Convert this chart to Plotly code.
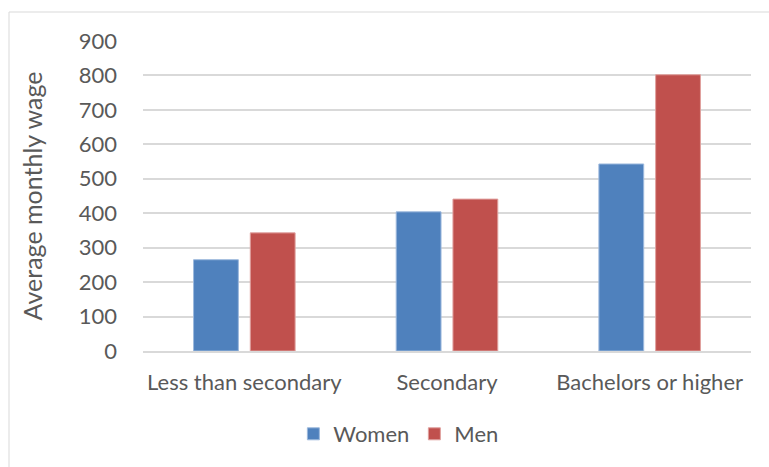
import plotly.graph_objects as go

# Average monthly wage by education level and sex
categories = ["Less than secondary", "Secondary", "Bachelors or higher"]
women = [265, 404, 543]
men = [343, 441, 802]
y_ticks = [0, 100, 200, 300, 400, 500, 600, 700, 800, 900]

W, H = 769, 467
ML, MR, MT, MB = 143, 18, 41, 116
pw, ph = W - ML - MR, H - MT - MB

text_color = "#595959"
grid_color = "#D9D9D9"
font_family = "Lato, sans-serif"

fig = go.Figure()
fig.add_trace(go.Bar(
    name="Women", x=categories, y=women,
    marker=dict(color="#4F81BD", line=dict(color="#9DB9DD", width=1)),
))
fig.add_trace(go.Bar(
    name="Men", x=categories, y=men,
    marker=dict(color="#C0504D", line=dict(color="#E0A09E", width=1)),
))

# light outer frame of the chart area
fig.add_shape(
    type="rect", xref="paper", yref="paper",
    x0=(9 - ML) / pw, x1=(W + 5 - ML) / pw,
    y0=-(H + 5 - MT - ph) / ph, y1=(H - 12 - MB) / ph,
    line=dict(color=grid_color, width=1), layer="below",
)

fig.update_layout(
    width=W, height=H,
    margin=dict(l=ML, r=MR, t=MT, b=MB, pad=0),
    paper_bgcolor="white", plot_bgcolor="white",
    barmode="group", bargap=0.44, bargroupgap=0.21,
    font=dict(family=font_family, color=text_color, size=22),
    showlegend=True,
    legend=dict(
        orientation="h", x=0.42, xanchor="center", y=-0.2, yanchor="top",
        font=dict(size=22, color=text_color), itemwidth=30,
        traceorder="normal",
    ),
    yaxis=dict(
        range=[0, 900], tickvals=y_ticks, showgrid=True,
        gridcolor=grid_color, gridwidth=1.5, zeroline=False,
        showline=False, ticks="", ticklabelstandoff=25,
        title=dict(text="Average monthly wage", font=dict(size=25, color=text_color), standoff=28),
        tickfont=dict(size=22, color=text_color),
    ),
    xaxis=dict(
        showline=True, linecolor=grid_color, linewidth=1.5, ticks="",
        tickfont=dict(size=22, color=text_color), ticklabelstandoff=11,
    ),
)

fig.write_html("out.html")
